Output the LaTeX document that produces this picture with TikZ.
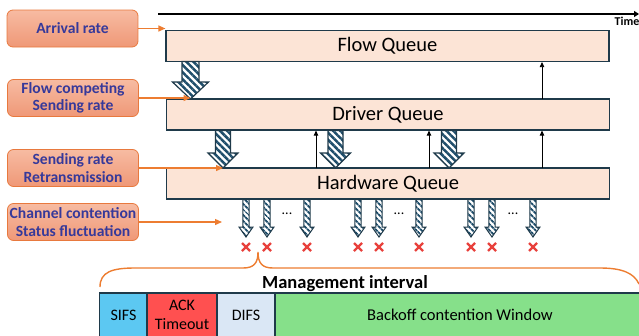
\documentclass[tikz,border=0pt]{standalone}
\usepackage{fontspec}
\setmainfont{Carlito}
\usetikzlibrary{arrows.meta,patterns.meta}
\definecolor{qfill}{HTML}{FCE4D6}
\definecolor{qborder}{HTML}{1F3A4A}
\definecolor{oborder}{HTML}{E8793E}
\definecolor{otop}{HTML}{F7BBA2}
\definecolor{obot}{HTML}{EF9877}
\definecolor{lblue}{HTML}{36399A}
\definecolor{oarrow}{HTML}{ED7D31}
\definecolor{hatch}{HTML}{1F4E6B}
\definecolor{redx}{HTML}{E8413C}
\definecolor{sifs}{HTML}{5CC8F2}
\definecolor{ack}{HTML}{FF5050}
\definecolor{difs}{HTML}{DAE7F5}
\definecolor{backoff}{HTML}{86E08A}
\newcommand\HArrow[6]{\path[harrow] (#1-#4,#2) -- (#1-#4,#3-#6) -- (#1-#5,#3-#6) -- (#1,#3) -- (#1+#5,#3-#6) -- (#1+#4,#3-#6) -- (#1+#4,#2) -- cycle;}
\newcommand\SArrow[6]{\path[sarrow] (#1-#4,#2) -- (#1-#4,#3-#6) -- (#1-#5,#3-#6) -- (#1,#3) -- (#1+#5,#3-#6) -- (#1+#4,#3-#6) -- (#1+#4,#2) -- cycle;}
\begin{document}
\begin{tikzpicture}[x=1pt,y=-1pt,
  queue/.style={draw=qborder, line width=1.2pt, fill=qfill, minimum width=443pt, minimum height=31pt, inner sep=0pt, font=\fontsize{20.5}{20.5}\selectfont},
  lab/.style={draw=oborder, line width=0.8pt, rounded corners=6pt, top color=otop, bottom color=obot, text=lblue, font=\bfseries\fontsize{15.6}{17.5}\selectfont, align=center, minimum width=131pt, minimum height=37pt, inner sep=0pt},
  oarr/.style={draw=oarrow, line width=1.3pt, -{Triangle[length=7pt,width=6pt]}},
  harrow/.style={draw=qborder, line width=1.2pt, line join=miter, preaction={fill=white}, pattern={Lines[angle=-45,distance=5pt,line width=2.5pt]}, pattern color=hatch},
  sarrow/.style={draw=qborder, line width=1pt, line join=miter, preaction={fill=white}, pattern={Lines[angle=-45,distance=4pt,line width=2pt]}, pattern color=hatch},
  uparr/.style={draw=black, line width=0.8pt, -{Triangle[length=5pt,width=4.5pt]}},
  xmark/.style={draw=redx, line width=2.3pt},
  cell/.style={draw=qborder, line width=1.2pt, minimum height=44pt, inner sep=0pt, font=\fontsize{16}{18.5}\selectfont, align=center},
  dots/.style={font=\fontsize{14}{14}\selectfont, inner sep=0pt}
]
\useasboundingbox (0,0) rectangle (639,335);

% timeline
\coordinate (tstart) at (158,14);
\coordinate (tend) at (639,14);
\draw[line width=2pt, -{Triangle[length=5pt,width=6pt]}] (tstart) -- (tend);
\node[anchor=north east, inner sep=0pt, font=\bfseries\fontsize{12}{12}\selectfont] (time) at (639.5,17) {Time};

% queues
\node[queue] (fq) at (387.5,46) {Flow Queue};
\node[queue] (dq) at (388,114.5) {Driver Queue};
\node[queue] (hq) at (388,183.5) {Hardware Queue};

% big hatched arrows
\HArrow{190.5}{61.5}{99}{8.5}{18}{17}
\HArrow{223}{130.5}{168}{7.5}{15}{15}
\HArrow{335.5}{130.5}{168}{7.5}{15}{15}
\HArrow{449}{130.5}{168}{7.5}{15}{15}
\coordinate (t1) at (190.5,99);
\coordinate (t2) at (223,168);
\coordinate (c4) at (222,221);

% thin up arrows
\foreach \x/\n in {316/a,429/b,542/c}{
  \coordinate (u\n) at (\x,168);
  \draw[uparr] (u\n) -- (u\n |- dq.south);
}
\coordinate (ud) at (542,99);
\draw[uparr] (ud) -- (ud |- fq.south);

% small hatched arrows
\foreach \x in {246,267,307,358,379,419,471,492,533}{
  \SArrow{\x}{199.5}{237}{3.2}{7}{10}
  \draw[xmark] (\x-4,243) -- (\x+4,251) (\x-4,251) -- (\x+4,243);
}
\node[dots] (d1) at (287,214) {...};
\node[dots] (d2) at (399,214) {...};
\node[dots] (d3) at (513,214) {...};

% labels
\node[lab] (l1) at (72.5,28.5) {Arrival rate};
\node[lab] (l2) at (73,98) {Flow competing\\Sending rate};
\node[lab] (l3) at (73,168) {Sending rate\\Retransmission};
\node[lab] (l4) at (73,222) {Channel contention\\Status fluctuation};
\draw[oarr] (l1.east) -- (l1.east -| fq.west);
\draw[oarr] (l2.east) -- (l2.east -| t1);
\draw[oarr] (l3.east) -- (l3.east -| t2);
\draw[oarr] (l4.east) -- (l4.east -| c4);

% brace
\draw[draw=oarrow, line width=1.4pt]
  (100,287) .. controls (100,272) and (112,268) .. (135,268) -- (243,268)
  .. controls (254,268) and (258,263) .. (258,252)
  .. controls (258,263) and (262,268) .. (273,268) -- (600,268)
  .. controls (622,268) and (634,273) .. (639,284);
\node[font=\bfseries\fontsize{18.5}{18.5}\selectfont, inner sep=0pt] (mi) at (345,284) {Management interval};

% bottom bar
\node[cell, fill=sifs, minimum width=48pt] (sifsc) at (123.5,315) {SIFS};
\node[cell, fill=ack, minimum width=70pt] (ackc) at (182,315) {ACK\\Timeout};
\node[cell, fill=difs, minimum width=58pt] (difsc) at (246,315) {DIFS};
\node[cell, fill=backoff, minimum width=370pt] (bc) at (460,315) {};
\node[font=\fontsize{16.5}{18}\selectfont, inner sep=0pt] (bct) at (460,315) {Backoff contention Window};
\end{tikzpicture}
\end{document}
